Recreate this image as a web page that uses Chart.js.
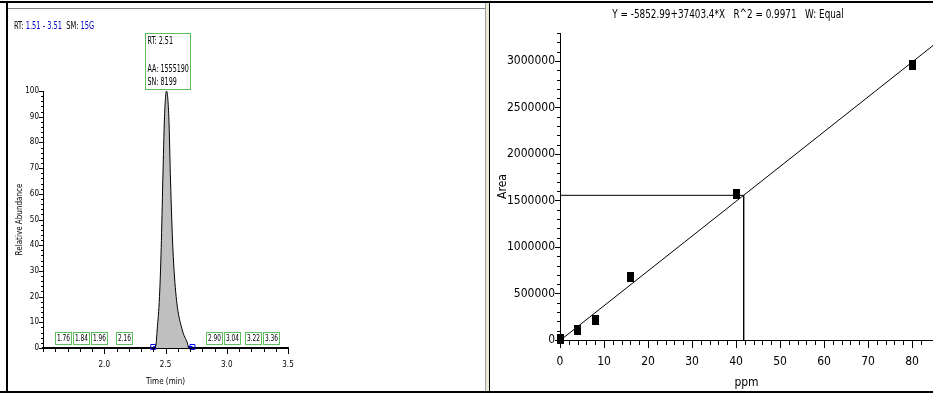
<!DOCTYPE html>
<html>
<head>
<meta charset="utf-8">
<script src="https://cdn.jsdelivr.net/npm/chart.js@4.4.1/dist/chart.umd.min.js"></script>
<style>
  html, body { margin: 0; padding: 0; background: #fff; }
  body { width: 933px; height: 396px; position: relative; overflow: hidden; }
  canvas { position: absolute; top: 0; }
  #chromCanvas { left: 0; }
  #calCanvas { left: 491px; }
  .line { position: absolute; z-index: 5; }
</style>
</head>
<body>
<canvas id="chromCanvas" width="485" height="396"></canvas>
<canvas id="calCanvas" width="442" height="396"></canvas>
<!-- window frame -->
<div class="line" style="left:0;top:1px;width:933px;height:2px;background:#000"></div>
<div class="line" style="left:0;top:391px;width:933px;height:2px;background:#000"></div>
<div class="line" style="left:6px;top:1px;width:2px;height:392px;background:#000"></div>
<div class="line" style="left:8px;top:8px;width:477px;height:1px;background:#808080"></div>
<div class="line" style="left:485px;top:3px;width:1px;height:388px;background:#a0a0a0"></div>
<div class="line" style="left:486px;top:3px;width:3px;height:388px;background:#ece9d8"></div>
<div class="line" style="left:489px;top:1px;width:1px;height:392px;background:#000"></div>
<script>
// chromatogram (left)
const rtMin = [1.50, 2.415, 2.424, 2.432, 2.451, 2.465, 2.478, 2.492, 2.508, 2.527, 2.541, 2.560, 2.587, 2.637, 2.678, 2.690, 3.50];
const relAbundance = [0, 0, 2, 7, 20, 39, 65, 90, 100, 90, 65, 39, 20, 7, 2, 0, 0];
const baselineRT = [2.40, 2.72];
const noiseRT = [1.76, 1.84, 1.96, 2.16, 2.90, 3.04, 3.22, 3.36];
const peakRT = 2.51;
const peakArea = 1555190;
const peakSN = 8199;
const rtRange = ["1.51 - 3.51", "15G"];

// calibration curve (right)
const stdPpm = [0, 4, 8, 16, 40, 80];
const stdArea = [8000, 107000, 215000, 677000, 1570000, 2957000];
const fitPpm = [0, 84.8];
const fitArea = [-5853, 3165955];
const unknownPpm = 41.74;
const unknownArea = 1555190;
const fitText = "Y = -5852.99+37403.4*X   R^2 = 0.9971   W: Equal";

const FONT = "'DejaVu Sans Condensed', 'Liberation Sans Narrow', sans-serif";
Chart.defaults.font.family = FONT;
Chart.defaults.color = "#000";
Chart.defaults.animation = false;

const onStep = (v, step) => Math.abs(v / step - Math.round(v / step)) < 1e-6;

// squeezed text, the original software uses a narrow face
function narrowText(ctx, text, x, y, sx) {
  ctx.save();
  ctx.translate(x, y);
  ctx.scale(sx, 1);
  ctx.fillText(text, 0, 0);
  ctx.restore();
}

// label offset goes through tickLength (grid hidden) so no extra side padding
const hiddenGrid = len => ({ display: false, drawOnChartArea: false, drawTicks: true, tickLength: len });

// tick marks, long for labelled ticks and short for the rest
const axisTicks = {
  id: "axisTicks",
  afterDraw(chart, args, opts) {
    const ctx = chart.ctx;
    ctx.save();
    ctx.strokeStyle = "#000";
    ctx.lineWidth = 1;
    for (const id of Object.keys(chart.scales)) {
      const cfg = opts[id];
      if (!cfg) continue;
      const s = chart.scales[id];
      s.ticks.forEach(t => {
        if (!onStep(t.value, cfg[2])) return;
        const len = t.label ? cfg[0] : cfg[1];
        const p = Math.round(s.getPixelForValue(t.value)) + 0.5;
        ctx.beginPath();
        if (s.isHorizontal()) { ctx.moveTo(p, s.top); ctx.lineTo(p, s.top + len); }
        else { ctx.moveTo(s.right, p); ctx.lineTo(s.right - len, p); }
        ctx.stroke();
      });
    }
    ctx.restore();
  }
};

// chromatogram labels
const chromLabels = {
  id: "chromLabels",
  afterDatasetsDraw(chart) {
    const ctx = chart.ctx;
    const xs = chart.scales.x, ys = chart.scales.y;
    ctx.save();
    ctx.textBaseline = "middle";
    ctx.font = "10px " + FONT;

    // header
    let x = 14;
    [["RT: ", "#000"], [rtRange[0], "#0000c8"], ["  SM: ", "#000"], [rtRange[1], "#0000c8"]].forEach(([t, c]) => {
      ctx.fillStyle = c;
      narrowText(ctx, t, x, 26, 0.74);
      x += ctx.measureText(t).width * 0.74;
    });

    // peak box
    const px = xs.getPixelForValue(peakRT);
    const py = ys.getPixelForValue(100);
    const bw = 45, bh = 56;
    const bx = Math.round(px - bw / 2 + 1) + 0.5, by = Math.round(py - 2 - bh) + 0.5;
    ctx.strokeStyle = "#5cbf5c";
    ctx.lineWidth = 1;
    ctx.strokeRect(bx, by, bw, bh);
    ctx.fillStyle = "#000";
    narrowText(ctx, "RT: " + peakRT.toFixed(2), bx + 2, by + 8, 0.71);
    narrowText(ctx, "AA: " + peakArea, bx + 2, by + 36, 0.71);
    narrowText(ctx, "SN: " + peakSN, bx + 2, by + 49, 0.71);

    // noise peak boxes, pushed left when they would overlap
    ctx.font = "9px " + FONT;
    const SX = 0.72;
    const w = noiseRT.map(v => Math.round(ctx.measureText(v.toFixed(2)).width * SX + 3));
    const c = noiseRT.map(v => xs.getPixelForValue(v));
    for (let i = c.length - 2; i >= 0; i--) {
      const limit = c[i + 1] - w[i + 1] / 2 - 2;
      if (c[i] + w[i] / 2 > limit) c[i] = limit - w[i] / 2;
    }
    const y0 = ys.getPixelForValue(0);
    ctx.textAlign = "center";
    noiseRT.forEach((v, i) => {
      const lx = Math.round(c[i] - w[i] / 2) + 0.5;
      ctx.strokeStyle = "#5cbf5c";
      ctx.strokeRect(lx, y0 - 15.5, w[i], 12);
      ctx.fillStyle = "#000";
      narrowText(ctx, v.toFixed(2), lx + w[i] / 2, y0 - 9, SX);
    });
    ctx.restore();
  }
};

new Chart(document.getElementById("chromCanvas"), {
  type: "line",
  data: {
    datasets: [
      {
        data: rtMin.map((t, i) => ({ x: t, y: relAbundance[i] })),
        borderColor: "#000",
        borderWidth: 1,
        backgroundColor: "#c0c0c0",
        fill: "origin",
        pointRadius: 0,
        cubicInterpolationMode: "monotone"
      },
      {
        data: baselineRT.map(t => ({ x: t, y: 0.4 })),
        borderColor: "#0000ff",
        borderWidth: 2,
        pointStyle: "rect",
        pointRadius: 3.5,
        pointBorderColor: "#0000ff",
        pointBackgroundColor: "rgba(0,0,0,0)",
        pointBorderWidth: 1,
        clip: false
      }
    ]
  },
  options: {
    responsive: false,
    layout: { autoPadding: false, padding: { left: 0, top: 91, right: 197, bottom: 8 } },
    plugins: {
      legend: { display: false },
      tooltip: { enabled: false },
      axisTicks: { x: [6, 4, 0.1], y: [4, 2, 2] }
    },
    scales: {
      x: {
        type: "linear", min: 1.5, max: 3.5,
        afterFit: s => { s.height = 40; },
        grid: hiddenGrid(12),
        border: { display: true, color: "#000", width: 2 },
        ticks: {
          stepSize: 0.1, autoSkip: false, maxRotation: 0, padding: 0,
          font: { size: 8 },
          callback: v => (v >= 1.99 && onStep(v, 0.5)) ? v.toFixed(1) : ""
        },
        title: { display: true, text: "Time (min)", font: { size: 8 }, padding: { top: 0, bottom: 1.5 } }
      },
      y: {
        min: 0, max: 100,
        afterFit: s => { s.width = 43; },
        grid: hiddenGrid(4),
        border: { display: true, color: "#000", width: 1 },
        ticks: {
          stepSize: 2, autoSkip: false, padding: 0,
          font: { size: 8 },
          callback: v => onStep(v, 10) ? String(v) : ""
        },
        title: { display: true, text: "Relative Abundance", font: { size: 8 }, padding: { top: 15 } }
      }
    }
  },
  plugins: [axisTicks, chromLabels]
});

// calibration marker: small filled block
const marker = document.createElement("canvas");
marker.width = 7; marker.height = 10;
const mctx = marker.getContext("2d");
mctx.fillStyle = "#000";
mctx.fillRect(0, 0, 7, 10);

const calTitle = {
  id: "calTitle",
  afterDraw(chart) {
    const ctx = chart.ctx;
    ctx.save();
    ctx.font = "12px " + FONT;
    ctx.fillStyle = "#000";
    ctx.textBaseline = "middle";
    const sx = 0.82;
    const w = ctx.measureText(fitText).width * sx;
    narrowText(ctx, fitText, 237 - w / 2, 15, sx);
    ctx.restore();
  }
};

new Chart(document.getElementById("calCanvas"), {
  type: "scatter",
  data: {
    datasets: [
      {
        type: "line",
        data: fitPpm.map((x, i) => ({ x, y: fitArea[i] })),
        borderColor: "#000", borderWidth: 1, pointRadius: 0
      },
      {
        type: "line",
        data: [{ x: 0, y: unknownArea }, { x: unknownPpm, y: unknownArea }, { x: unknownPpm, y: 0 }],
        borderColor: "#000", borderWidth: 1, pointRadius: 0
      },
      {
        data: stdPpm.map((x, i) => ({ x, y: stdArea[i] })),
        pointStyle: marker,
        pointRadius: 4,
        clip: false
      }
    ]
  },
  options: {
    responsive: false,
    layout: { autoPadding: false, padding: { left: 0, top: 33, right: 0, bottom: 5 } },
    plugins: {
      legend: { display: false },
      tooltip: { enabled: false },
      axisTicks: { x: [8, 5, 2], y: [5, 3, 100000] }
    },
    scales: {
      x: {
        type: "linear", min: 0, max: 84.77,
        afterFit: s => { s.height = 51; },
        grid: hiddenGrid(14.5),
        border: { display: true, color: "#000", width: 1 },
        ticks: {
          stepSize: 2, autoSkip: false, maxRotation: 0, padding: 0,
          font: { size: 12 },
          callback: v => onStep(v, 10) ? String(v) : ""
        },
        title: { display: true, text: "ppm", font: { size: 12 }, padding: { top: 0, bottom: 0.8 } }
      },
      y: {
        min: 0, max: 3300000,
        afterFit: s => { s.width = 69; },
        grid: hiddenGrid(5),
        border: { display: true, color: "#000", width: 1 },
        ticks: {
          stepSize: 100000, autoSkip: false, padding: 0,
          font: { size: 12 },
          callback: v => onStep(v, 500000) ? String(v) : ""
        },
        title: { display: true, text: "Area", font: { size: 12 }, padding: { top: 5 } }
      }
    }
  },
  plugins: [axisTicks, calTitle]
});
</script>
</body>
</html>
